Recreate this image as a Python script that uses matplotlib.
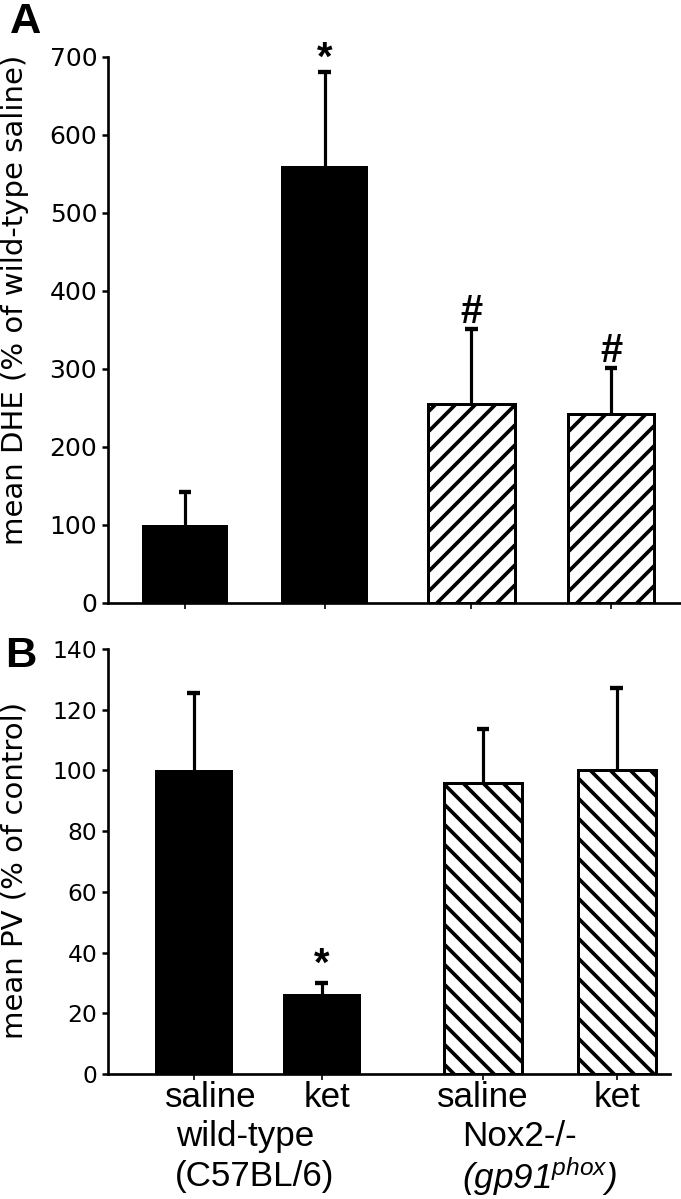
import matplotlib
matplotlib.use("Agg")
import matplotlib.pyplot as plt
import numpy as np

# ---- data ----
groups = ["wild-type", "(C57BL/6)", "Nox2-/-", r'$(gp91^{phox})$']
conditions = ["saline", "ket", "saline", "ket"]

# panel A: mean DHE (% of wild-type saline)
dhe_mean = [100, 560, 255, 242]
dhe_err = [42, 121, 96, 59]
dhe_marks = ["", "*", "#", "#"]

# panel B: mean PV (% of control)
pv_mean = [100, 26.5, 96, 100]
pv_err = [25.5, 3.5, 17.6, 27]
pv_marks = ["", "*", "", ""]

DPI = 120
W, H = 681, 1199
plt.rcParams['font.family'] = ['DejaVu Sans']
plt.rcParams['mathtext.fontset'] = 'custom'
plt.rcParams['mathtext.it'] = 'Liberation Sans:italic'
plt.rcParams['mathtext.rm'] = 'Liberation Sans:italic'
plt.rcParams['mathtext.default'] = 'it'
plt.rcParams['hatch.linewidth'] = 2.2

fig = plt.figure(figsize=(W / DPI, H / DPI), dpi=DPI)


def setup_axes(ax, ymax, ystep, tick_size):
    for s in ['top', 'right']:
        ax.spines[s].set_visible(False)
    for s in ['left', 'bottom']:
        ax.spines[s].set_linewidth(1.6)
    ax.set_ylim(0, ymax)
    ax.set_yticks(np.arange(0, ymax + 1, ystep))
    ax.tick_params(axis='y', direction='out', length=3.5, width=1.5,
                   labelsize=tick_size, pad=3)
    ax.tick_params(axis='x', direction='out', length=3.5, width=1.0,
                   labelbottom=False)


def draw_bars(ax, pos, width, means, errs, hatch, cap_w):
    colors = ['black', 'black', 'white', 'white']
    hatches = [None, None, hatch, hatch]
    for x, m, e, c, h in zip(pos, means, errs, colors, hatches):
        ax.bar(x, m, width, color=c, edgecolor='black', hatch=h,
               linewidth=1.8 if h else 0, zorder=2)
        # upper error bar only
        ax.vlines(x, m, m + e, color='black', lw=1.9, zorder=1)
        ax.hlines(m + e, x - cap_w, x + cap_w, color='black', lw=2.6, zorder=1)


mark_kw = dict(ha='center', va='baseline', fontsize=24, fontweight='bold',
               family='Liberation Sans', clip_on=False)
lab_kw = dict(ha='center', va='center', fontsize=21, family='Liberation Sans')

# ---- panel A ----
axA = fig.add_axes([108 / W, (H - 603) / H, 573 / W, 546 / H])
posA = [0.55, 1.55, 2.6, 3.6]
axA.set_xlim(0, 4.1)
setup_axes(axA, 700, 100, 15)
draw_bars(axA, posA, 0.62, dhe_mean, dhe_err, '//', 0.045)
axA.set_xticks(posA)
for x, m, e, t in zip(posA, dhe_mean, dhe_err, dhe_marks):
    if t == '*':
        axA.text(x, m + e + 2, t, **mark_kw)
    elif t:
        axA.text(x, m + e + 8, t, **mark_kw)

# ---- panel B ----
axB = fig.add_axes([108 / W, (H - 1074) / H, 562 / W, 425 / H])
posB = [0.61, 1.52, 2.67, 3.62]
axB.set_xlim(0, 4.0)
setup_axes(axB, 140, 20, 14)
draw_bars(axB, posB, 0.555, pv_mean, pv_err, '\\\\', 0.045)
axB.set_xticks(posB)
for x, m, e, t in zip(posB, pv_mean, pv_err, pv_marks):
    if t:
        axB.text(x, m + e + 2.5, t, **mark_kw)

# category labels under panel B
tr = axB.get_xaxis_transform()
lab_off = [0.12, 0.04, 0.0, 0.0]
for x, c, d in zip(posB, conditions, lab_off):
    axB.text(x + d, -0.055, c, transform=tr, **lab_kw)
axB.text(0.975, -0.147, groups[0], transform=tr, **lab_kw)
axB.text(1.046, -0.241, groups[1], transform=tr, **lab_kw)
axB.text(2.93, -0.147, groups[2], transform=tr, **lab_kw)
axB.text(3.07, -0.241, groups[3], transform=tr, ha='center', va='center',
         fontsize=21)

# axis titles
fig.text(15 / W, 1 - 300 / H, 'mean DHE (% of wild-type saline)', rotation=90,
         ha='center', va='center', fontsize=17.5)
fig.text(15 / W, 1 - 870 / H, 'mean PV (% of control)', rotation=90,
         ha='center', va='center', fontsize=17.5)

# panel letters
fig.text(10 / W, 1 - 2 / H, 'A', ha='left', va='top', fontsize=26,
         fontweight='bold', family='Liberation Sans')
fig.text(5 / W, 1 - 636 / H, 'B', ha='left', va='top', fontsize=26,
         fontweight='bold', family='Liberation Sans')

fig.savefig('out.png', dpi=DPI)
